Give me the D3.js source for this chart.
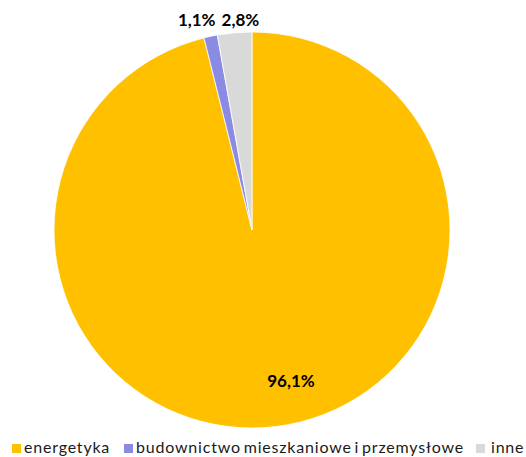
<!DOCTYPE html>
<meta charset="utf-8">
<style>
body { margin: 0; background: #fff; }
text { font-family: Lato, "Open Sans", sans-serif; }
</style>
<svg width="526" height="457"></svg>
<script src="https://d3js.org/d3.v7.min.js"></script>
<script>
var categories = ["energetyka", "budownictwo mieszkaniowe i przemysłowe", "inne"];
var values = [96.1, 1.1, 2.8];
var colors = ["#FFC000", "#8B8BE3", "#D9D9D9"];

var svg = d3.select("svg"),
    width = +svg.attr("width"),
    height = +svg.attr("height");

var cx = 252, cy = 230, r = 198;

var data = categories.map(function(c, i) { return {name: c, value: values[i]}; });

var pie = d3.pie().sort(null).value(function(d) { return d.value; });
var arc = d3.arc().innerRadius(0).outerRadius(r);

var g = svg.append("g").attr("transform", "translate(" + cx + "," + cy + ")");

var arcs = pie(data);

g.selectAll("path")
  .data(arcs)
  .enter().append("path")
  .attr("d", arc)
  .attr("fill", function(d, i) { return colors[i]; })
  .attr("stroke", "#fff")
  .attr("stroke-width", 0.8);

// label radius: inside for big slice, outside for small ones
var inner = d3.arc().innerRadius(155).outerRadius(155);
var outer = d3.arc().innerRadius(212).outerRadius(212);
var nudge = [[20, -1], [-11, -1], [7, 3]];

g.selectAll(".lbl")
  .data(arcs)
  .enter().append("text")
  .attr("class", "lbl")
  .attr("transform", function(d, i) {
    var p = (i == 0 ? inner : outer).centroid(d);
    return "translate(" + (p[0] + nudge[i][0]) + "," + (p[1] + nudge[i][1]) + ")";
  })
  .attr("text-anchor", "middle")
  .attr("dominant-baseline", "middle")
  .attr("font-size", "17px")
  .attr("font-weight", "bold")
  .attr("fill", "#000")
  .text(function(d) { return d3.format(".1f")(d.data.value).replace(".", ",") + "%"; });

// legend
var legendX = [12, 124, 476];
var legend = svg.selectAll(".legend")
  .data(data)
  .enter().append("g")
  .attr("class", "legend")
  .attr("transform", function(d, i) { return "translate(" + legendX[i] + ",444)"; });

legend.append("rect")
  .attr("x", 0)
  .attr("y", 0)
  .attr("width", 9)
  .attr("height", 9)
  .attr("fill", function(d, i) { return colors[i]; });

legend.append("text")
  .attr("x", function(d, i) { return i == 2 ? 15 : 12; })
  .attr("y", 9)
  .attr("font-size", "16px")
  .attr("letter-spacing", "0.8px")
  .attr("word-spacing", "-2px")
  .attr("fill", "#1a1a1a")
  .text(function(d) { return d.name; });
</script>
